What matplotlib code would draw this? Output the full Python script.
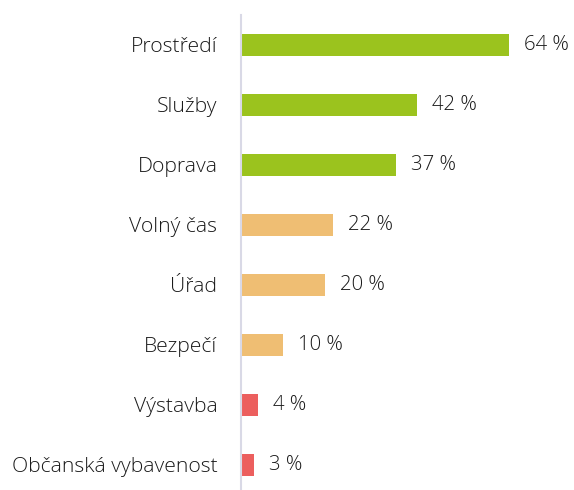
import matplotlib.pyplot as plt
import numpy as np

categories = ['Prostředí', 'Služby', 'Doprava', 'Volný čas', 'Úřad',
              'Bezpečí', 'Výstavba', 'Občanská vybavenost']
values = [64, 42, 37, 22, 20, 10, 4, 3]
colors = ['#9bc31e', '#9bc31e', '#9bc31e', '#efbe73', '#efbe73',
          '#efbe73', '#ec5f5e', '#ec5f5e']

plt.rcParams['font.family'] = ['Open Sans', 'DejaVu Sans']

fig = plt.figure(figsize=(5.74, 4.90), dpi=100)
ax = fig.add_axes([241 / 574, 0.0, 333 / 574, 1 - 15 / 490])

y = np.arange(len(categories))
ax.barh(y, values, height=0.37, color=colors)

# value labels to the right of each bar
for yi, v in zip(y, values):
    ax.text(v + 3.6, yi, f'{v} %', va='center', ha='left',
            fontsize=14.7, color='#1a1a1a', fontweight='light')

ax.set_xlim(0, 333 / 4.19)
ax.set_ylim(7.42, -0.5)
ax.set_yticks(y)
ax.set_yticklabels(categories, fontsize=15.2, color='#1a1a1a', fontweight='light')
ax.tick_params(axis='y', length=0, pad=17)
ax.set_xticks([])

for side in ['top', 'right', 'bottom']:
    ax.spines[side].set_visible(False)
ax.spines['left'].set_color('#d9d9e6')
ax.spines['left'].set_linewidth(1.5)

fig.savefig('out.png', dpi=100)
